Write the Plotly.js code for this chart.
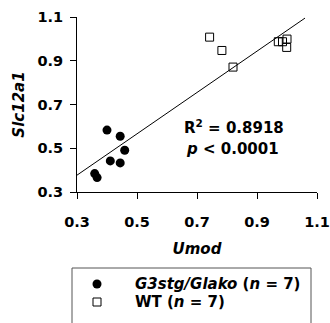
<!DOCTYPE html>
<html>
<head>
<meta charset="utf-8">
<script src="https://cdn.plot.ly/plotly-3.0.1.min.js"></script>
<style>html,body{margin:0;padding:0;background:#fff;}#chart{width:330px;height:323px;}</style>
</head>
<body>
<div id="chart"></div>
<script>
// G3stg/Glako (filled circles)
var koUmod = [0.400, 0.444, 0.459, 0.411, 0.444, 0.359, 0.367];
var koSlc = [0.583, 0.555, 0.491, 0.442, 0.433, 0.384, 0.366];
// WT (open squares)
var wtUmod = [0.742, 0.783, 0.820, 0.971, 0.985, 1.000, 0.999];
var wtSlc = [1.008, 0.947, 0.871, 0.987, 0.987, 0.999, 0.961];
// regression line end points
var fitX = [0.30, 1.06];
var fitY = [0.377, 1.095];
var tickVals = [0.3, 0.5, 0.7, 0.9, 1.1];
var tickText = ['0.3', '0.5', '0.7', '0.9', '1.1'];
var seriesNames = ['<i>G3stg/Glako</i> (<i>n</i> = 7)', 'WT (<i>n</i> = 7)'];
var statR2 = 'R<sup>2</sup> = 0.8918';
var statP = '<i>p</i> &lt; 0.0001';

var FONT = 'DejaVu Sans, Arial, sans-serif';
var W = 330, H = 323;

// legend layout (pixel positions within the canvas, via an invisible overlay axis pair)
var LEG = {left: 72, right: 311, top: 268, rowY: [284, 302], symX: 97, textX: 133};

var circleMarker = {symbol: 'circle', size: 9, color: '#000'};
var squareMarker = {symbol: 'square-open', size: 8, color: '#000', line: {width: 1, color: '#000'}};

var traces = [
  {x: fitX, y: fitY, mode: 'lines', line: {color: '#000', width: 1}, hoverinfo: 'skip'},
  {x: koUmod, y: koSlc, mode: 'markers', name: seriesNames[0], marker: circleMarker},
  {x: wtUmod, y: wtSlc, mode: 'markers', name: seriesNames[1], marker: squareMarker},
  // legend symbols
  {x: [LEG.symX], y: [LEG.rowY[0]], xaxis: 'x2', yaxis: 'y2', mode: 'markers', marker: circleMarker, hoverinfo: 'skip'},
  {x: [LEG.symX], y: [LEG.rowY[1]], xaxis: 'x2', yaxis: 'y2', mode: 'markers', marker: squareMarker, hoverinfo: 'skip'}
];

var axisCommon = {
  showgrid: false, zeroline: false, showline: true, linecolor: '#000', linewidth: 1,
  ticks: 'outside', ticklen: 6, tickwidth: 1, tickcolor: '#000',
  tickmode: 'array', tickvals: tickVals, ticktext: tickText,
  tickfont: {family: FONT, size: 14.5, color: '#000', weight: 'bold'},
  fixedrange: true
};

var textFont = function (s) { return {family: FONT, size: s, weight: 'bold', color: '#000'}; };

var layout = {
  width: W, height: H,
  margin: {l: 0, r: 0, t: 0, b: 0, pad: 0},
  paper_bgcolor: '#fff', plot_bgcolor: 'rgba(0,0,0,0)',
  font: {family: FONT, color: '#000'},
  showlegend: false,
  xaxis: Object.assign({}, axisCommon, {domain: [77 / W, 317 / W], range: [0.3, 1.1], anchor: 'y',
    ticklabelstandoff: 11,
    title: {text: '<i>Umod</i>', font: textFont(15), standoff: 14}}),
  yaxis: Object.assign({}, axisCommon, {domain: [(H - 192) / H, (H - 17) / H], range: [0.3, 1.1], anchor: 'x',
    ticklabelstandoff: 4,
    title: {text: '<i>Slc12a1</i>', font: textFont(15), standoff: 9}}),
  xaxis2: {domain: [0, 1], range: [0, W], visible: false, fixedrange: true, anchor: 'y2'},
  yaxis2: {domain: [0, 1], range: [H, 0], visible: false, fixedrange: true, anchor: 'x2'},
  shapes: [
    {type: 'rect', xref: 'x2', yref: 'y2', x0: LEG.left, x1: LEG.right, y0: LEG.top, y1: H + 10,
     line: {color: '#555', width: 1}, fillcolor: 'rgba(0,0,0,0)', layer: 'below'}
  ],
  annotations: [
    {x: 0.824, y: 0.597, xref: 'x', yref: 'y', text: statR2, showarrow: false, font: textFont(15)},
    {x: 0.818, y: 0.496, xref: 'x', yref: 'y', text: statP, showarrow: false, font: textFont(15)},
    {x: LEG.textX, y: LEG.rowY[0], xref: 'x2', yref: 'y2', xanchor: 'left', yanchor: 'middle',
     text: seriesNames[0], showarrow: false, font: textFont(15)},
    {x: LEG.textX, y: LEG.rowY[1], xref: 'x2', yref: 'y2', xanchor: 'left', yanchor: 'middle',
     text: seriesNames[1], showarrow: false, font: textFont(15)}
  ]
};

Plotly.newPlot('chart', traces, layout, {displayModeBar: false, staticPlot: true});
</script>
</body>
</html>
